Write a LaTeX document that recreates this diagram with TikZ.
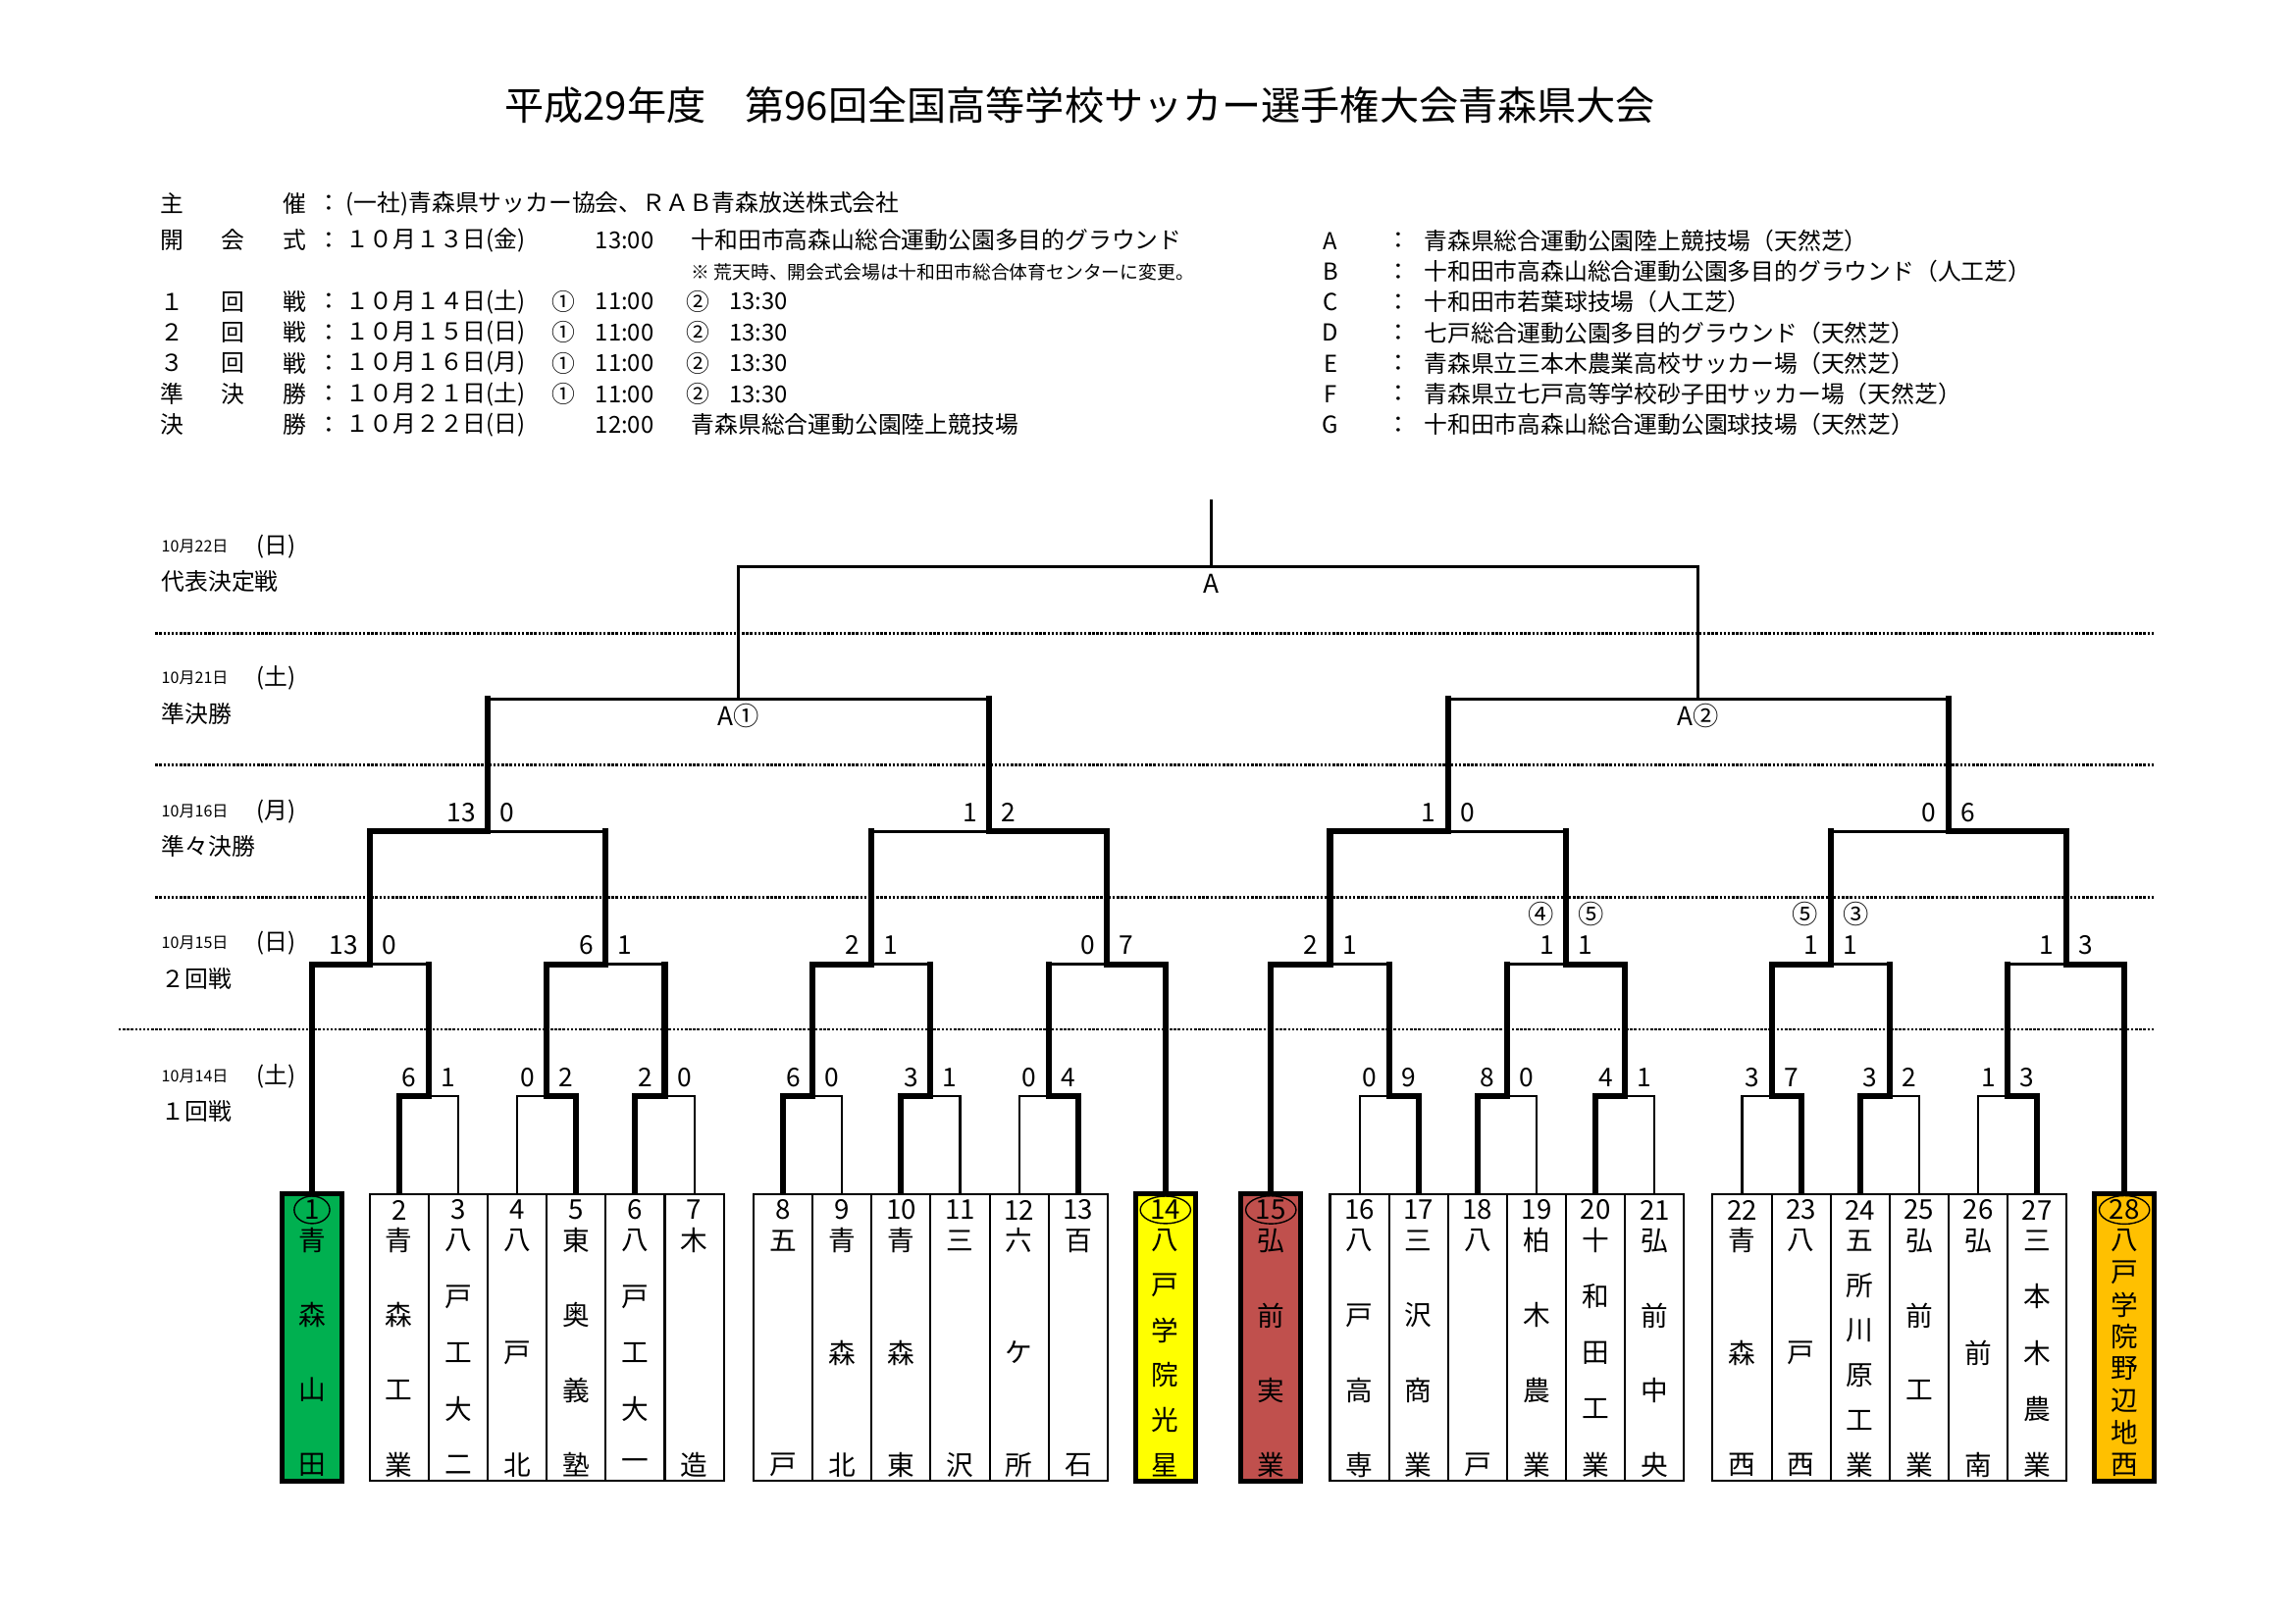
\documentclass[tikz,border=0pt]{standalone}
\usepackage{fontspec}
\setmainfont{Noto Sans CJK JP}
\usepackage{tikz}
\usetikzlibrary{shapes.geometric}
\definecolor{seedgreen}{HTML}{00B050}
\definecolor{seedyellow}{HTML}{FFFF00}
\definecolor{seedred}{HTML}{C0504D}
\definecolor{seedorange}{HTML}{FFC000}

\begin{document}
\begin{tikzpicture}[x=0.18953mm,y=-0.18953mm,
  titletext/.style={font=\fontsize{14.5}{16}\selectfont,inner sep=0pt},
  info/.style={font=\fontsize{8.6}{10}\selectfont,inner sep=0pt},
  notetext/.style={font=\fontsize{6.8}{8}\selectfont,inner sep=0pt},
  datefont/.style={font=\fontsize{5.8}{7}\selectfont,inner sep=0pt},
  score/.style={font=\fontsize{9.5}{11}\selectfont,inner sep=0pt},
  teamch/.style={font=\fontsize{10}{12}\selectfont,inner sep=0pt},
  seedno/.style={draw,ellipse,line width=0.5pt,font=\fontsize{10}{12}\selectfont,
    inner xsep=1pt,inner ysep=0pt,minimum width=4.6mm,minimum height=3.2mm},
  teambox/.style={line width=0.75pt,fill=white},
  seedbox/.style={line width=1.8pt},
  r1line/.style={line width=0.75pt,line cap=rect},
  midline/.style={line width=1.2pt,line cap=rect},
  winline/.style={line width=2.2pt,line cap=rect},
  dotline/.style={line width=1pt,dash pattern=on 0.9pt off 0.6pt}]
\useasboundingbox (0,0) rectangle (1567,1108.2);

% title and schedule
\node[titletext] (title) at (737.4,72) {平成29年度　第96回全国高等学校サッカー選手権大会青森県大会};

\node[info] (h1a) at (117.5,139) {主};
\node[info] (h1c) at (201.5,139) {催};
\node[info] (h1k) at (225,139) {：};
\node[info,anchor=west] (h1t) at (236,139) {(一社)青森県サッカー協会、ＲＡＢ青森放送株式会社};

\node[info] (h2a) at (117.5,164) {開};
\node[info] (h2b) at (159,164) {会};
\node[info] (h2c) at (201.5,164) {式};
\node[info] (h2k) at (225,164) {：};
\node[info,anchor=west] (h2d) at (236,164) {１０月１３日(金)};
\node[info] (h2t) at (426.5,164) {13:00};
\node[info,anchor=west] (h2v) at (471.7,164) {十和田市高森山総合運動公園多目的グラウンド};
\node[notetext,anchor=west] (h2n) at (471.7,186) {※ 荒天時、開会式会場は十和田市総合体育センターに変更。};

\foreach \y/\a/\b/\c/\d [count=\i] in {206/１/回/戦/１０月１４日(土), 227/２/回/戦/１０月１５日(日),
    248/３/回/戦/１０月１６日(月), 269/準/決/勝/１０月２１日(土)}
{
  \node[info] (g\i a) at (117.5,\y) {\a};
  \node[info] (g\i b) at (159,\y) {\b};
  \node[info] (g\i c) at (201.5,\y) {\c};
  \node[info] (g\i k) at (225,\y) {：};
  \node[info,anchor=west] (g\i d) at (236,\y) {\d};
  \node[info] (g\i e) at (385,\y) {①};
  \node[info] (g\i f) at (426.5,\y) {11:00};
  \node[info] (g\i g) at (476.5,\y) {②};
  \node[info] (g\i h) at (517.8,\y) {13:30};
}

\node[info] (h8a) at (117.5,290) {決};
\node[info] (h8c) at (201.5,290) {勝};
\node[info] (h8k) at (225,290) {：};
\node[info,anchor=west] (h8d) at (236,290) {１０月２２日(日)};
\node[info] (h8t) at (426.5,290) {12:00};
\node[info,anchor=west] (h8v) at (471.7,290) {青森県総合運動公園陸上競技場};

% venues
\foreach \y/\l/\t [count=\i] in {164.5/A/青森県総合運動公園陸上競技場（天然芝）,
    185.4/B/十和田市高森山総合運動公園多目的グラウンド（人工芝）,
    206.3/C/十和田市若葉球技場（人工芝）,
    227.2/D/七戸総合運動公園多目的グラウンド（天然芝）,
    248.1/E/青森県立三本木農業高校サッカー場（天然芝）,
    269/F/青森県立七戸高等学校砂子田サッカー場（天然芝）,
    290/G/十和田市高森山総合運動公園球技場（天然芝）}
{
  \node[info] (v\i) at (908.5,\y) {\l};
  \node[info] (vk\i) at (955,\y) {：};
  \node[info,anchor=west] (vt\i) at (972,\y) {\t};
}

% round labels
\foreach \y/\d/\w/\r [count=\i] in {373/10月22日/日/代表決定戦, 463/10月21日/土/準決勝,
    554/10月16日/月/準々決勝, 644/10月15日/日/２回戦, 735/10月14日/土/１回戦}
{
  \node[datefont,anchor=west] (ld\i) at (110,\y) {\d};
  \node[info,anchor=west] (lw\i) at (175,\y) {(\w)};
  \node[info,anchor=west] (lr\i) at (110,\y+24) {\r};
}

\draw[dotline] (106,432.2) -- (1471,432.2);
\draw[dotline] (106,522.4) -- (1471,522.4);
\draw[dotline] (106,612.6) -- (1471,612.6);
\draw[dotline] (81,702.8) -- (1471,702.8);

% team tops
\foreach \k/\x in {1/213, 2/272.55, 3/312.85, 4/353.15, 5/393.45, 6/433.75, 7/474.05,
    8/534.65, 9/574.95, 10/615.25, 11/655.55, 12/695.85, 13/736.15, 14/795.75,
    15/867.75, 16/928.25, 17/968.55, 18/1008.85, 19/1049.15, 20/1089.45, 21/1129.75,
    22/1189.45, 23/1229.75, 24/1270.05, 25/1310.35, 26/1350.65, 27/1390.95, 28/1450.5}
  \coordinate (t\k) at (\x,815.2);

% match points
\foreach \nm/\x/\y in {m2/292.7/748.5, m4/373.3/748.5, m6/453.9/748.5, m8/554.8/748.5,
    m10/635.4/748.5, m12/716/748.5, m16/948.4/748.5, m18/1029/748.5, m20/1109.6/748.5,
    m22/1209.6/748.5, m24/1290.2/748.5, m26/1370.8/748.5,
    q1/252.85/658.3, q2/413.6/658.3, q3/595.1/658.3, q4/755.9/658.3,
    q5/908.1/658.3, q6/1069.3/658.3, q7/1249.9/658.3, q8/1410.65/658.3,
    s1/333.2/567.7, s2/675.5/567.7, s3/988.7/567.7, s4/1330.3/567.7,
    f1/504.35/477.1, f2/1159.5/477.1, fin/827/387, top/827/342}
  \coordinate (\nm) at (\x,\y);

% 1st round
\foreach \l/\w/\m in {3/2/m2, 4/5/m4, 7/6/m6, 9/8/m8, 11/10/m10, 12/13/m12,
    16/17/m16, 19/18/m18, 21/20/m20, 22/23/m22, 25/24/m24, 26/27/m26}
{
  \draw[r1line] (t\l) |- (\m);
  \draw[winline] (t\w) |- (\m);
}

% 2nd round, quarter finals
\foreach \l/\w/\m in {m2/t1/q1, m6/m4/q2, m10/m8/q3, m12/t14/q4,
    m16/t15/q5, m18/m20/q6, m24/m22/q7, m26/t28/q8,
    q2/q1/s1, q3/q4/s2, q6/q5/s3, q7/q8/s4}
{
  \draw[winline] (\l) -- (\l |- \m);
  \draw[midline] (\l |- \m) -- (\m);
  \draw[winline] (\w) |- (\m);
}

% semi finals, final
\foreach \c/\f in {s1/f1, s2/f1, s3/f2, s4/f2}
{
  \draw[winline] (\c) -- (\c |- \f);
  \draw[midline] (\c |- \f) -- (\f);
}
\draw[midline] (f1) |- (fin);
\draw[midline] (f2) |- (fin);
\draw[midline] (fin) -- (top);

\node[score] (la1) at (504.5,489) {A①};
\node[score] (la2) at (1159.5,489) {A②};
\node[score] (la) at (827,398.7) {A};

% scores
\foreach \m/\a/\b in {m2/6/1, m4/0/2, m6/2/0, m8/6/0, m10/3/1, m12/0/4,
    m16/0/9, m18/8/0, m20/4/1, m22/3/7, m24/3/2, m26/1/3,
    q1/13/0, q2/6/1, q3/2/1, q4/0/7, q5/2/1, q6/1/1, q7/1/1, q8/1/3,
    s1/13/0, s2/1/2, s3/1/0, s4/0/6}
{
  \node[score,anchor=base east] (\m-l) at ([shift={(-8,-6.5)}]\m) {\a};
  \node[score,anchor=base west] (\m-r) at ([shift={(8,-6.5)}]\m) {\b};
}
\node[score,anchor=base east] (pk6l) at ([shift={(-8,-27.5)}]q6) {④};
\node[score,anchor=base west] (pk6r) at ([shift={(8,-27.5)}]q6) {⑤};
\node[score,anchor=base east] (pk7l) at ([shift={(-8,-27.5)}]q7) {⑤};
\node[score,anchor=base west] (pk7r) at ([shift={(8,-27.5)}]q7) {③};

% teams
\foreach \k/\n/\nm in {2/4/{青,森,工,業}, 3/5/{八,戸,工,大,二}, 4/3/{八,戸,北},
    5/4/{東,奥,義,塾}, 6/5/{八,戸,工,大,一}, 7/2/{木,造}, 8/2/{五,戸},
    9/3/{青,森,北}, 10/3/{青,森,東}, 11/2/{三,沢}, 12/3/{六,ケ,所}, 13/2/{百,石},
    16/4/{八,戸,高,専}, 17/4/{三,沢,商,業}, 18/2/{八,戸}, 19/4/{柏,木,農,業},
    20/5/{十,和,田,工,業}, 21/4/{弘,前,中,央}, 22/3/{青,森,西}, 23/3/{八,戸,西},
    24/6/{五,所,川,原,工,業}, 25/4/{弘,前,工,業}, 26/3/{弘,前,南}, 27/5/{三,本,木,農,業}}
{
  \draw[teambox] ([shift={(-20.15,0)}]t\k) rectangle ([shift={(20.15,195.8)}]t\k);
  \node[teamch] (no\k) at ([shift={(0,10.8)}]t\k) {\k};
  \foreach \c [count=\i] in \nm
    \node[teamch] (c\k-\i) at ([shift={(0,{31.8+(\i-1)*153/(\n-1)})}]t\k) {\c};
}

% seeds
\foreach \k/\n/\nm/\fl in {1/4/{青,森,山,田}/seedgreen, 14/6/{八,戸,学,院,光,星}/seedyellow,
    15/4/{弘,前,実,業}/seedred, 28/8/{八,戸,学,院,野,辺,地,西}/seedorange}
{
  \draw[seedbox,fill=\fl] ([shift={(-20.4,0)}]t\k) rectangle ([shift={(20.4,195.8)}]t\k);
  \node[seedno] (no\k) at ([shift={(0,10.8)}]t\k) {\k};
  \foreach \c [count=\i] in \nm
    \node[teamch] (c\k-\i) at ([shift={(0,{31.8+(\i-1)*153/(\n-1)})}]t\k) {\c};
}
\end{tikzpicture}
\end{document}
